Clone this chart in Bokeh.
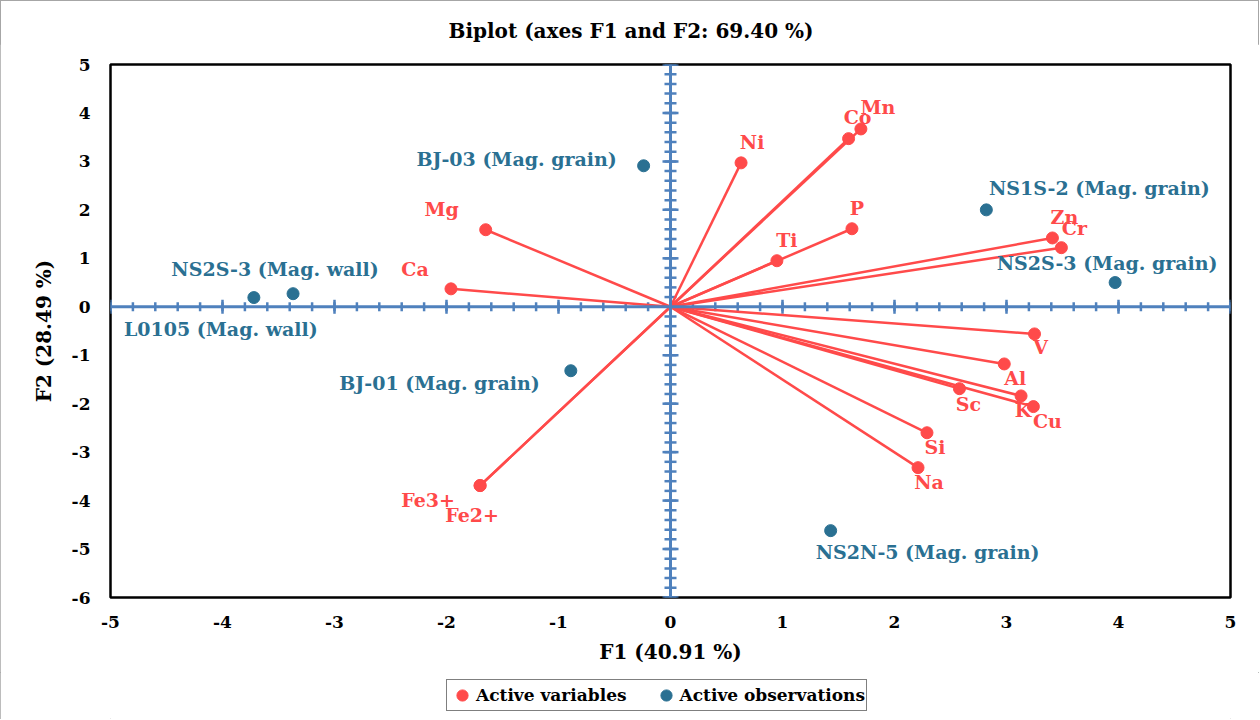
import numpy as np
from bokeh.plotting import figure
from bokeh.layouts import column
from bokeh.models import (Range1d, Span, Legend, LegendItem, ColumnDataSource,
                          PrintfTickFormatter, Div)
from bokeh.core.properties import value
from bokeh.embed import file_html
from bokeh.resources import INLINE

# ---- data ----
var_names = ["Mn", "Co", "Ni", "P", "Ti", "Mg", "Ca", "Zn", "Cr", "V", "Al",
             "Sc", "K", "Cu", "Si", "Na", "Fe3+", "Fe2+"]
var_f1 = [1.70, 1.59, 0.63, 1.62, 0.95, -1.65, -1.96, 3.41, 3.49, 3.25, 2.98,
          2.58, 3.13, 3.24, 2.29, 2.21, -1.70, -1.70]
var_f2 = [3.67, 3.47, 2.97, 1.61, 0.95, 1.59, 0.37, 1.42, 1.22, -0.56, -1.18,
          -1.69, -1.84, -2.06, -2.60, -3.32, -3.69, -3.69]

obs_names = ["BJ-03 (Mag. grain)", "NS1S-2 (Mag. grain)", "NS2S-3 (Mag. grain)",
             "NS2S-3 (Mag. wall)", "L0105 (Mag. wall)", "BJ-01  (Mag. grain)",
             "NS2N-5 (Mag. grain)"]
obs_f1 = [-0.24, 2.82, 3.97, -3.37, -3.72, -0.89, 1.43]
obs_f2 = [2.91, 2.00, 0.50, 0.27, 0.19, -1.32, -4.62]

x_ticks = [-5, -4, -3, -2, -1, 0, 1, 2, 3, 4, 5]
y_ticks = [-6, -5, -4, -3, -2, -1, 0, 1, 2, 3, 4, 5]

title_text = "Biplot (axes F1 and F2: 69.40 %)"
legend_labels = ["Active variables", "Active observations"]

# ---- label placement (screen px offsets, layout only) ----
var_dx = [17, 9, 11, 5, 10, -44, -36, 12, 13, 6, 11, 9, 2, 14, 8, 11, -52, -8]
var_dy = [-22, -22, -21, -21, -21, -21, -20, -21, -20, 13, 14, 15, 14, 14, 14, 14, 14, 29]
obs_dx = [-127, 113, -8, -18, -33, -128, 97]
obs_dy = [-7, -22, -20, -25, 31, 12, 21]

RED = "#FF4A4A"
BLUE = "#2A7092"
AXB = "#4F81BD"
FONT = "DejaVu Serif"
W = 1259

# ---- title ----
title = Div(text=title_text, width=W, height=44, margin=0,
            styles={"text-align": "center", "font-family": FONT,
                    "font-weight": "bold", "font-size": "20px",
                    "line-height": "22px", "padding-top": "20px",
                    "padding-left": "3px", "box-sizing": "border-box",
                    "color": "black"})

# ---- main plot ----
p = figure(width=W, height=628, output_backend="svg", toolbar_location=None,
           x_range=Range1d(-5, 5), y_range=Range1d(-6, 5),
           min_border_left=110, min_border_right=29, min_border_top=20,
           min_border_bottom=75)
p.title = None
p.background_fill_color = "white"
p.border_fill_color = "white"
p.outline_line_color = "black"
p.outline_line_width = 2.5
p.xgrid.visible = False
p.ygrid.visible = False

for ax, ticks in ((p.xaxis, x_ticks), (p.yaxis, y_ticks)):
    ax.ticker = ticks
    ax.formatter = PrintfTickFormatter(format="%d")
    ax.axis_line_color = None
    ax.major_tick_line_color = None
    ax.minor_tick_line_color = None
    ax.major_label_text_font = FONT
    ax.major_label_text_font_style = "bold"
    ax.major_label_text_font_size = "17px"
    ax.major_label_text_color = "black"
    ax.axis_label_text_font = FONT
    ax.axis_label_text_font_style = "bold"
    ax.axis_label_text_font_size = "20px"
    ax.axis_label_text_color = "black"
p.xaxis.axis_label = "F1 (40.91 %)"
p.yaxis.axis_label = "F2 (28.49 %)"
p.xaxis.major_label_standoff = 12
p.yaxis.major_label_standoff = 14
p.xaxis.axis_label_standoff = 9
p.yaxis.axis_label_standoff = 13

# central axes through the origin
p.add_layout(Span(location=0, dimension="width", line_color=AXB, line_width=3))
p.add_layout(Span(location=0, dimension="height", line_color=AXB, line_width=3))
minor_x = [round(v, 1) for v in np.arange(-5, 5.001, 0.2)]
minor_y = [round(v, 1) for v in np.arange(-6, 5.001, 0.2)]
p.scatter(minor_x, [0] * len(minor_x), marker="dash", angle=np.pi / 2, size=9,
          line_color=AXB, line_width=2.5)
p.scatter(x_ticks, [0] * len(x_ticks), marker="dash", angle=np.pi / 2, size=14,
          line_color=AXB, line_width=2.5)
p.scatter([0] * len(minor_y), minor_y, marker="dash", size=12,
          line_color=AXB, line_width=2.5)
p.scatter([0] * len(y_ticks), y_ticks, marker="dash", size=16,
          line_color=AXB, line_width=2.5)

# vectors
vsrc = ColumnDataSource(dict(x0=[0] * len(var_f1), y0=[0] * len(var_f2),
                             x=var_f1, y=var_f2, name=var_names,
                             dx=var_dx, dy=var_dy))
p.segment(x0="x0", y0="y0", x1="x", y1="y", source=vsrc, line_color=RED,
          line_width=2.5)

osrc = ColumnDataSource(dict(x=obs_f1, y=obs_f2, name=obs_names,
                             dx=obs_dx, dy=obs_dy))

p.text(x="x", y="y", text="name", x_offset="dx", y_offset="dy", source=vsrc,
       text_font=value(FONT), text_font_style="bold", text_font_size="19px",
       text_color=RED, text_align="center", text_baseline="middle")
p.text(x="x", y="y", text="name", x_offset="dx", y_offset="dy", source=osrc,
       text_font=value(FONT), text_font_style="bold", text_font_size="19px",
       text_color=BLUE, text_align="center", text_baseline="middle")

p.scatter(x="x", y="y", source=vsrc, size=12, fill_color=RED, line_color=RED)
p.scatter(x="x", y="y", source=osrc, size=12, fill_color=BLUE, line_color=BLUE)

# ---- legend strip (its frame is aligned with the main frame) ----
lg = figure(width=W, height=47, output_backend="svg", toolbar_location=None,
            x_axis_location=None, y_axis_location=None, min_border=0,
            x_range=Range1d(0, 1), y_range=Range1d(0, 1))
lg.title = None
lg.outline_line_color = None
lg.xgrid.visible = False
lg.ygrid.visible = False
nan = float("nan")
lr_var = lg.scatter(x=[nan], y=[nan], size=12, fill_color=RED, line_color=RED)
lr_obs = lg.scatter(x=[nan], y=[nan], size=12, fill_color=BLUE, line_color=BLUE)
legend = Legend(items=[LegendItem(label=legend_labels[0], renderers=[lr_var]),
                       LegendItem(label=legend_labels[1], renderers=[lr_obs])],
                orientation="horizontal", location=(336, 8))
legend.label_text_font = FONT
legend.label_text_font_style = "bold"
legend.label_text_font_size = "17px"
legend.label_text_color = "black"
legend.glyph_width = 28
legend.glyph_height = 28
legend.label_height = 22
legend.label_standoff = 0
legend.spacing = 25
legend.padding = 1
legend.margin = 0
legend.border_line_color = "black"
legend.border_line_width = 1.5
legend.background_fill_color = "white"
legend.background_fill_alpha = 1.0
lg.add_layout(legend, "center")

layout = column(title, p, lg, spacing=0,
                styles={"outline": "1px solid #A6A6A6", "outline-offset": "-1px"})
open("out.html", "w").write(file_html(layout, INLINE))
